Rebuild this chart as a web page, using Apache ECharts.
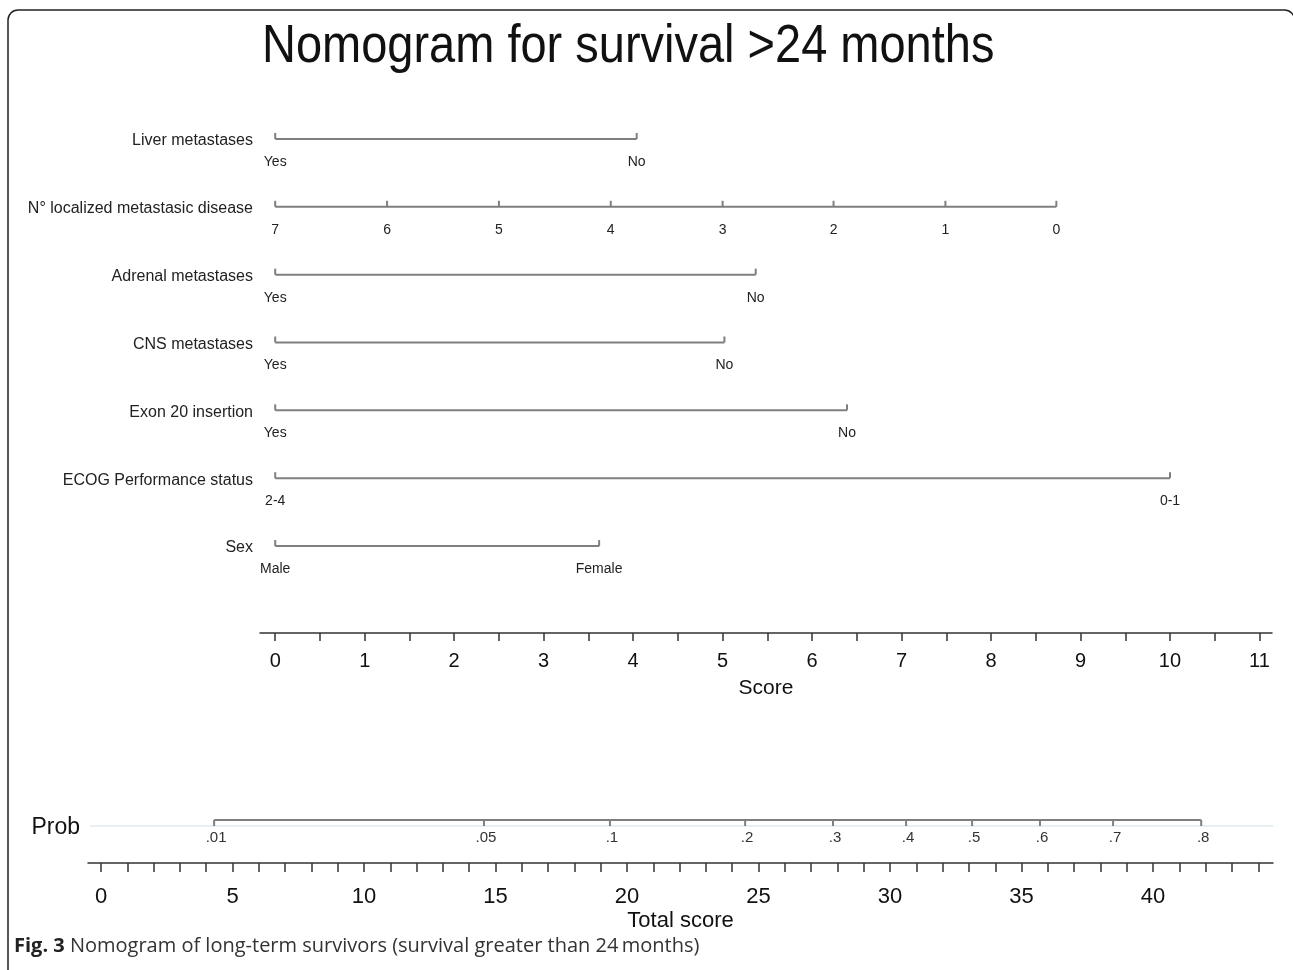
<!DOCTYPE html>
<html>
<head>
<meta charset="utf-8">
<script src="https://cdn.jsdelivr.net/npm/echarts@6/dist/echarts.min.js"></script>
<style>
  html, body { margin: 0; padding: 0; background: #fff; }
  #chart { width: 1293px; height: 970px; }
</style>
</head>
<body>
<div id="chart"></div>
<script>
// ---- data ----
const variables = ['Liver metastases', 'N° localized metastasic disease', 'Adrenal metastases',
  'CNS metastases', 'Exon 20 insertion', 'ECOG Performance status', 'Sex'];
const levelLabels = [
  ['Yes', 'No'],
  ['7', '6', '5', '4', '3', '2', '1', '0'],
  ['Yes', 'No'],
  ['Yes', 'No'],
  ['Yes', 'No'],
  ['2-4', '0-1'],
  ['Male', 'Female']
];
const levelPoints = [
  [0, 4.04],
  [0, 1.25, 2.50, 3.75, 5.00, 6.24, 7.49, 8.73],
  [0, 5.37],
  [0, 5.02],
  [0, 6.39],
  [0, 10.0],
  [0, 3.62]
];
const scoreLabels = [0, 1, 2, 3, 4, 5, 6, 7, 8, 9, 10, 11];
const scoreTicks = [0, 0.5, 1, 1.5, 2, 2.5, 3, 3.5, 4, 4.5, 5, 5.5, 6, 6.5, 7, 7.5, 8, 8.5, 9, 9.5, 10, 10.5, 11];
const probLabels = ['.01', '.05', '.1', '.2', '.3', '.4', '.5', '.6', '.7', '.8'];
const probPoints = [4.30, 14.56, 19.35, 24.49, 27.83, 30.61, 33.12, 35.70, 38.48, 41.83];
const totalLabels = [0, 5, 10, 15, 20, 25, 30, 35, 40];
const totalTicks = [0, 1, 2, 3, 4, 5, 6, 7, 8, 9, 10, 11, 12, 13, 14, 15, 16, 17, 18, 19, 20, 21, 22,
  23, 24, 25, 26, 27, 28, 29, 30, 31, 32, 33, 34, 35, 36, 37, 38, 39, 40, 41, 42, 43, 44];

// ---- styles ----
const FONT = 'Liberation Sans, Arial, sans-serif';
const GRAY = '#7f7f7f';
const DARK = '#333333';

const chart = echarts.init(document.getElementById('chart'), null, { renderer: 'canvas' });

const series = [];
variables.forEach((name, i) => {
  const pts = levelPoints[i];
  series.push({
    type: 'line', xAxisIndex: 0, yAxisIndex: 0, silent: true, animation: false,
    symbol: 'none', lineStyle: { color: GRAY, width: 2 },
    data: [[pts[0], i], [pts[pts.length - 1], i]]
  });
  series.push({
    type: 'custom', xAxisIndex: 0, yAxisIndex: 0, silent: true, animation: false,
    data: pts.map(v => [v, i]),
    renderItem: (params, api) => {
      const p = api.coord([api.value(0), api.value(1)]);
      return {
        type: 'group', children: [
          { type: 'line', shape: { x1: p[0], y1: p[1] - 6, x2: p[0], y2: p[1] }, style: { stroke: GRAY, lineWidth: 2 } },
          { type: 'text', x: p[0], y: p[1] + 23, style: { text: levelLabels[i][params.dataIndex], align: 'center', verticalAlign: 'middle', font: '14px ' + FONT, fill: '#222' } }
        ]
      };
    }
  });
});

// light background line of the probability row
series.push({
  type: 'custom', xAxisIndex: 1, yAxisIndex: 1, silent: true, animation: false,
  data: [[-0.42, 0]],
  renderItem: (params, api) => {
    const a = api.coord([-0.42, 0]);
    const b = api.coord([44.56, 0]);
    return { type: 'line', shape: { x1: a[0], y1: a[1] + 6, x2: b[0], y2: b[1] + 6 }, style: { stroke: '#dfeaef', lineWidth: 1.5 } };
  }
});
// probability line
series.push({
  type: 'line', xAxisIndex: 1, yAxisIndex: 1, silent: true, animation: false,
  symbol: 'none', lineStyle: { color: GRAY, width: 2 },
  data: [[probPoints[0], 0], [probPoints[probPoints.length - 1], 0]]
});
series.push({
  type: 'custom', xAxisIndex: 1, yAxisIndex: 1, silent: true, animation: false,
  data: probPoints.map(v => [v, 0]),
  renderItem: (params, api) => {
    const p = api.coord([api.value(0), api.value(1)]);
    return {
      type: 'group', children: [
        { type: 'line', shape: { x1: p[0], y1: p[1], x2: p[0], y2: p[1] + 6 }, style: { stroke: GRAY, lineWidth: 2 } },
        { type: 'text', x: p[0] + 2, y: p[1] + 18, style: { text: probLabels[params.dataIndex], align: 'center', verticalAlign: 'middle', font: '15px ' + FONT, fill: '#333' } }
      ]
    };
  }
});

const option = {
  backgroundColor: '#ffffff',
  animation: false,
  grid: [
    { left: 260, top: 105, width: 1012, height: 475 },
    { left: 88, top: 777, width: 1185, height: 86 }
  ],
  xAxis: [
    {
      gridIndex: 0, type: 'value', min: -0.17, max: 11.14, position: 'bottom', offset: 53,
      axisLine: { show: true, lineStyle: { color: DARK, width: 1.5 } },
      axisTick: { show: true, customValues: scoreTicks, length: 8, lineStyle: { color: DARK, width: 1.5 } },
      axisLabel: { customValues: scoreLabels, fontSize: 20, color: '#111', margin: 18, fontFamily: FONT },
      splitLine: { show: false },
      name: 'Score', nameLocation: 'middle', nameGap: 45,
      nameTextStyle: { fontSize: 21, color: '#111', fontFamily: FONT }
    },
    {
      gridIndex: 1, type: 'value', min: -0.494, max: 44.56, position: 'bottom',
      axisLine: { show: true, lineStyle: { color: DARK, width: 1.5 } },
      axisTick: { show: true, customValues: totalTicks, length: 9, lineStyle: { color: DARK, width: 1.5 } },
      axisLabel: { customValues: totalLabels, fontSize: 22, color: '#111', margin: 23, fontFamily: FONT },
      splitLine: { show: false },
      name: 'Total score', nameLocation: 'middle', nameGap: 47,
      nameTextStyle: { fontSize: 22, color: '#111', fontFamily: FONT }
    }
  ],
  yAxis: [
    {
      gridIndex: 0, type: 'category', data: variables, inverse: true,
      axisLine: { show: false }, axisTick: { show: false }, splitLine: { show: false },
      axisLabel: {
        margin: 7, formatter: '{a|{value}}',
        rich: { a: { fontSize: 16, color: '#222', fontFamily: FONT, padding: [4, 0, 0, 0] } }
      }
    },
    {
      gridIndex: 1, type: 'category', data: ['Prob'],
      axisLine: { show: false }, axisTick: { show: false }, splitLine: { show: false },
      axisLabel: {
        margin: 8, formatter: '{a|{value}}',
        rich: { a: { fontSize: 23, color: '#111', fontFamily: FONT, padding: [16, 0, 0, 0] } }
      }
    }
  ],
  graphic: [
    {
      type: 'rect', silent: true,
      shape: { x: 8, y: 10, width: 1286.5, height: 1000, r: 10 },
      style: { fill: 'none', stroke: '#222', lineWidth: 1.5 }
    },
    {
      type: 'text', x: 262, y: 47, scaleX: 0.87, silent: true,
      style: { text: 'Nomogram for survival >24 months', font: '54px ' + FONT, fill: '#111', align: 'left', verticalAlign: 'middle' }
    },
    {
      type: 'text', x: 14, y: 946, silent: true,
      style: {
        text: '{b|Fig. 3} Nomogram of long-term survivors (survival greater than 24\u2009months)',
        font: '20px Open Sans, sans-serif', fill: '#333', verticalAlign: 'middle',
        rich: { b: { fontWeight: 'bold', fontSize: 20, fontFamily: 'Open Sans, sans-serif', fill: '#222' } }
      }
    }
  ],
  series: series
};
chart.setOption(option);
</script>
</body>
</html>
